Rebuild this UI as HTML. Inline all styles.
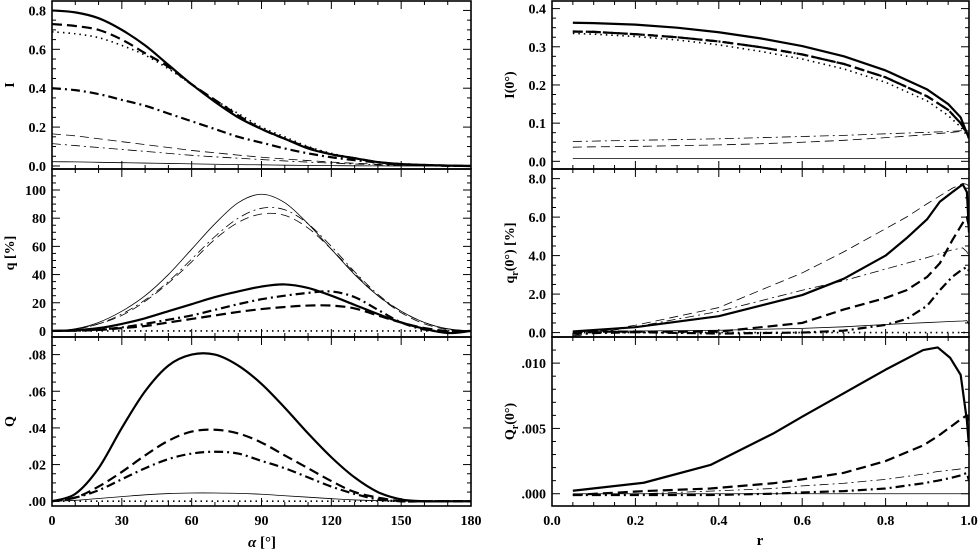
<!DOCTYPE html>
<html><head><meta charset="utf-8"><style>
body{margin:0;background:#fff}
svg text{font-family:"Liberation Serif",serif;font-weight:bold;fill:#000}
</style></head><body>
<svg id="c" width="978" height="554" xmlns="http://www.w3.org/2000/svg"></svg>
<script>
// ---- data ----
const alpha=[0,10,20,30,40,50,60,70,80,90,100,110,120,130,140,150,160,170,180];
const I_thickSolid=[0.80,0.79,0.76,0.70,0.62,0.52,0.42,0.33,0.25,0.19,0.14,0.09,0.06,0.04,0.02,0.01,0.005,0.002,0];
const I_thickDash=[0.73,0.72,0.70,0.65,0.58,0.51,0.42,0.34,0.26,0.19,0.14,0.095,0.06,0.04,0.02,0.01,0.005,0.002,0];
const I_dotted=[0.69,0.68,0.66,0.62,0.57,0.50,0.42,0.34,0.27,0.20,0.15,0.10,0.065,0.04,0.02,0.01,0.005,0.002,0];
const I_thickDashDot=[0.40,0.39,0.37,0.34,0.31,0.27,0.23,0.19,0.15,0.12,0.09,0.065,0.045,0.03,0.018,0.009,0.004,0.001,0];
const I_thinDash=[0.165,0.155,0.14,0.125,0.11,0.095,0.08,0.068,0.056,0.045,0.036,0.028,0.02,0.014,0.009,0.005,0.002,0.001,0];
const I_thinDashDot=[0.115,0.105,0.095,0.085,0.075,0.065,0.055,0.047,0.04,0.033,0.026,0.02,0.015,0.01,0.006,0.003,0.001,0,0];
const I_thinSolid=[0.022,0.021,0.019,0.017,0.015,0.013,0.011,0.009,0.007,0.006,0.004,0.003,0.002,0.001,0.0005,0,0,0,0];
const q_thinSolid=[0,1.5,6,14,25,40,58,76,91,97,91,76,58,40,25,14,6,1.5,0];
const q_thinDashDot=[0,1.3,5,12,22,35,51,67,80,87,86,76,60,42,26,14,6,1.5,0];
const q_thinDash=[0,1.2,5,11,21,34,49,65,77,83,82,73,58,41,25,13,5,1,0];
const q_thickSolid=[0,0.5,2,5,9,14,19,24,28,31.5,33,30.5,25,18.5,12,6,1.5,-1.5,0];
const q_thickDashDot=[0,0.3,1,2.5,5,8,11,15,19,22.5,25,27,28,24,15,6,1,-0.5,0];
const q_thickDash=[0,0.2,0.7,2,3.5,6,8.5,11,13.5,15.5,17,18,18,16,11,6,2,0,0];
const q_dotted=[0,0,0,0,0,0,0,0,0,0,0,0,0,0,0,0,0,0,0];
const Q_thickSolid=[0,0.004,0.018,0.040,0.060,0.074,0.080,0.080,0.074,0.064,0.051,0.037,0.024,0.013,0.005,0.001,0,0,0];
const Q_thickDash=[0,0.002,0.008,0.016,0.025,0.033,0.038,0.039,0.037,0.032,0.025,0.018,0.011,0.005,0.002,0,0,0,0];
const Q_thickDashDot=[0,0.002,0.006,0.012,0.018,0.023,0.026,0.027,0.026,0.022,0.018,0.013,0.008,0.004,0.001,0,0,0,0];
const Q_thinSolid=[0,0.0005,0.0015,0.0025,0.0035,0.0042,0.0045,0.0045,0.0043,0.0038,0.003,0.0022,0.0014,0.0007,0.0003,0,0,0,0];
const Q_dotted=[0,0,0,0,0,0,0,0,0,0,0,0,0,0,0,0,0,0,0];
const rI=[0.05,0.1,0.2,0.3,0.4,0.5,0.6,0.7,0.8,0.9,0.95,0.98,1.0];
const I0_thickSolid=[.363,.362,.358,.350,.338,.322,.302,.275,.238,.188,.15,.115,.06];
const I0_thickDash=[.340,.339,.333,.325,.314,.299,.280,.255,.220,.170,.135,.10,.065];
const I0_dotted=[.335,.333,.327,.318,.305,.288,.268,.242,.207,.158,.12,.09,.06];
const I0_thinDashDot=[.052,.053,.055,.057,.059,.062,.065,.068,.072,.076,.078,.08,.08];
const I0_thinDash=[.037,.038,.039,.041,.043,.046,.050,.055,.062,.070,.075,.078,.08];
const I0_thinSolid=[.007,.007,.007,.007,.007,.007,.007,.007,.007,.007,.007,.007,.007];
const rq=[0.05,0.2,0.4,0.6,0.7,0.8,0.85,0.9,0.93,0.96,0.985,0.995,1.0];
const qr_thickSolid=[0.06,0.28,0.85,1.95,2.8,4.0,4.9,5.9,6.8,7.3,7.7,7.3,5.2];
const qr_thinDash=[-0.15,0.38,1.3,3.1,4.2,5.4,6.0,6.7,7.1,7.5,7.75,7.7,7.6];
const qr_thinDashDot=[-0.2,0.3,1.1,2.2,2.7,3.3,3.6,3.9,4.1,4.3,4.4,4.2,3.9];
const qr_thickDash=[0.05,0.05,0.05,0.5,1.2,1.8,2.2,2.9,3.6,4.8,5.7,6.0,5.5];
const qr_thickDashDot=[-0.05,0.02,-0.05,0.0,0.1,0.4,0.7,1.4,2.2,2.9,3.3,3.4,3.2];
const qr_thinSolid=[0.05,0.08,0.12,0.22,0.3,0.42,0.47,0.52,0.55,0.58,0.6,0.62,0.4];
const qr_dotted=[0,0,0,0,0,0,0,0,0,0,0,0,0];
const rQ=[0.05,0.22,0.38,0.53,0.6,0.7,0.8,0.89,0.925,0.955,0.98,0.995,1.0];
const Qr_thickSolid=[.00023,.00084,.0022,.0046,.0059,.0077,.0095,.0110,.0112,.0104,.0091,.0056,.0036];
const Qr_thickDash=[-.0001,.0002,.0004,.0008,.0011,.0016,.0025,.0037,.0044,.0051,.0057,.0060,.0055];
const Qr_thinDashDot=[-.0001,0,.0002,.0004,.0006,.0008,.0011,.0015,.0017,.0018,.0019,.0020,.0019];
const Qr_thickDashDot=[-.0001,-.0001,-.0001,0,.0001,.0002,.0004,.0008,.0010,.0012,.0014,.0016,.0010];
const Qr_thinSolid=[0,0,0,0,0,0,0,0,0,0,0,0,0];
const leftXTicks=["0","30","60","90","120","150","180"];
const rightXTicks=["0.0","0.2","0.4","0.6","0.8","1.0"];

const NS="http://www.w3.org/2000/svg";
const svg=document.getElementById('c');
function el(t,a,p){const e=document.createElementNS(NS,t);for(const k in a)e.setAttribute(k,a[k]);(p||svg).appendChild(e);return e;}
const STY={
 thickSolid:{w:2.2,d:""}, thickDash:{w:2.2,d:"10,5"}, dotted:{w:1.6,d:"1.5,4"},
 thickDashDot:{w:2.2,d:"9,4,2,4"}, thinDash:{w:0.8,d:"9,5"}, thinDashDot:{w:0.8,d:"9,4,2,4"}, thinSolid:{w:0.8,d:""}
};
function smoothPath(P){
  let d='M'+P[0][0].toFixed(2)+','+P[0][1].toFixed(2);
  for(let i=0;i<P.length-1;i++){
    const p0=P[Math.max(0,i-1)],p1=P[i],p2=P[i+1],p3=P[Math.min(P.length-1,i+2)];
    const c1=[p1[0]+(p2[0]-p0[0])/6,p1[1]+(p2[1]-p0[1])/6];
    const c2=[p2[0]-(p3[0]-p1[0])/6,p2[1]-(p3[1]-p1[1])/6];
    d+='C'+c1[0].toFixed(2)+','+c1[1].toFixed(2)+' '+c2[0].toFixed(2)+','+c2[1].toFixed(2)+' '+p2[0].toFixed(2)+','+p2[1].toFixed(2);
  }
  return d;
}
let clipN=0;
function panel(name,x0,x1,y0,y1,xmin,xmax,ymin,ymax,xmaj,xmin_,ymaj,ymin_,yfmt,ylabels,xs,series,ytitle,xlabels,smooth){
  const g=el('g',{});
  
  
  const X=v=>x0+(v-xmin)/(xmax-xmin)*(x1-x0);
  const Y=v=>y1-(v-ymin)/(ymax-ymin)*(y1-y0);
  const cid='cl'+(clipN++);
  const cp=el('clipPath',{id:cid},g);el('rect',{x:x0,y:y0,width:x1-x0,height:y1-y0},cp);
  const tk=el('g',{stroke:'#000','stroke-width':1},g);
  
  
  for(let v=xmin;v<=xmax+1e-9;v+=xmin_){const px=X(v);const maj=Math.abs(Math.round(v/xmaj)*xmaj-v)<1e-6;const L=maj?8:4;
    el('line',{x1:px,x2:px,y1:y1,y2:y1-L},tk);el('line',{x1:px,x2:px,y1:y0,y2:y0+L},tk);}
  const ys=Math.ceil(ymin/ymin_-1e-9)*ymin_;
  for(let v=ys;v<=ymax+1e-9;v+=ymin_){const py=Y(v);const maj=Math.abs(Math.round(v/ymaj)*ymaj-v)<ymin_*1e-3;const L=maj?8:4;
    el('line',{x1:x0,x2:x0+L,y1:py,y2:py},tk);el('line',{x1:x1,x2:x1-L,y1:py,y2:py},tk);}
  ylabels.forEach(v=>{const t=el('text',{x:x0-6,y:Y(v)+5,'text-anchor':'end','font-size':14},g);t.textContent=yfmt(v);
    });
  const sg=el('g',{'clip-path':'url(#'+cid+')',fill:'none',stroke:'#000'},g);
  series.forEach(([key,arr])=>{const s=STY[key];
    const P=arr.map((v,i)=>[X(xs[i]),Y(v)]);
    const d=smooth?smoothPath(P):P.map((p,i)=>(i?'L':'M')+p[0].toFixed(2)+','+p[1].toFixed(2)).join('');
    const p=el('path',{d:d,'stroke-width':s.w,'stroke-dasharray':s.d,'stroke-linejoin':'round'},sg);
    
    });
  const fr=el('rect',{x:x0,y:y0,width:x1-x0,height:y1-y0,fill:'none',stroke:'#000','stroke-width':1.6},g);
  
  
  const cy=(y0+y1)/2;const tt=el('text',{x:0,y:0,'text-anchor':'middle','font-size':14,'font-weight':'normal',transform:`translate(${x0-38},${cy}) rotate(-90)`},g);
  tt.innerHTML=ytitle;
  
  
  if(xlabels){xlabels.forEach(s=>{const t=el('text',{x:X(parseFloat(s)),y:y1+19,'text-anchor':'middle','font-size':14},g);t.textContent=s;
    });}
}
const fmtDec1=v=>v.toFixed(1);
const fmtInt=v=>String(Math.round(v));
const fmtDot=d=>v=>{const s=v.toFixed(d);return s.replace(/^0/,'').replace(/^-0/,'-');};
panel('intensity-panel',52,471,1,169,0,180,-0.0155,0.8485,30,10,0.2,0.05,fmtDec1,[0,0.2,0.4,0.6,0.8],alpha,
 [['thinSolid',I_thinSolid],['thinDashDot',I_thinDashDot],['thinDash',I_thinDash],['thickDashDot',I_thickDashDot],['dotted',I_dotted],['thickDash',I_thickDash],['thickSolid',I_thickSolid]],'I',null,true);
panel('polarization-degree-panel',52,471,169,337,0,180,-4.3,114.9,30,10,20,5,fmtInt,[0,20,40,60,80,100],alpha,
 [['thinSolid',q_thinSolid],['thinDashDot',q_thinDashDot],['thinDash',q_thinDash],['thickSolid',q_thickSolid],['thickDashDot',q_thickDashDot],['thickDash',q_thickDash],['dotted',q_dotted]],'q [%]',null,true);
panel('stokes-q-panel',52,471,337,506,0,180,-0.0026,0.0896,30,10,0.02,0.005,fmtDot(2),[0,0.02,0.04,0.06,0.08],alpha,
 [['thinSolid',Q_thinSolid],['dotted',Q_dotted],['thickDashDot',Q_thickDashDot],['thickDash',Q_thickDash],['thickSolid',Q_thickSolid]],'Q',leftXTicks,true);
panel('intensity-r-panel',552,969,1,169,0,1,-0.0201,0.4199,0.2,0.05,0.1,0.025,fmtDec1,[0,0.1,0.2,0.3,0.4],rI,
 [['thinSolid',I0_thinSolid],['thinDash',I0_thinDash],['thinDashDot',I0_thinDashDot],['dotted',I0_dotted],['thickDashDot',I0_thickDash],['thickDash',I0_thickDash],['thickSolid',I0_thickSolid]],'I(0°)',null,false);
panel('polarization-r-panel',552,969,169,337,0,1,-0.23,8.5,0.2,0.05,2,0.5,fmtDec1,[0,2,4,6,8],rq,
 [['thinSolid',qr_thinSolid],['thinDash',qr_thinDash],['thinDashDot',qr_thinDashDot],['dotted',qr_dotted],['thickDashDot',qr_thickDashDot],['thickDash',qr_thickDash],['thickSolid',qr_thickSolid]],'q<tspan dy="4" font-size="10">r</tspan><tspan dy="-4">(0°) [%]</tspan>',null,false);
panel('stokes-q-r-panel',552,969,337,506,0,1,-0.00094,0.01200,0.2,0.05,0.005,0.001,fmtDot(3),[0,0.005,0.010],rQ,
 [['thinSolid',Qr_thinSolid],['thinDashDot',Qr_thinDashDot],['thickDashDot',Qr_thickDashDot],['thickDash',Qr_thickDash],['thickSolid',Qr_thickSolid]],'Q<tspan dy="4" font-size="10">r</tspan><tspan dy="-4">(0°)</tspan>',rightXTicks,false);
const xa=el('text',{x:262,y:547,'text-anchor':'middle','font-size':15,'font-weight':'normal'});
xa.innerHTML='<tspan font-style="italic">α</tspan> [°]';


const xr=el('text',{x:760,y:545,'text-anchor':'middle','font-size':15,'font-weight':'normal'});
xr.textContent='r';


</script>
</body></html>
